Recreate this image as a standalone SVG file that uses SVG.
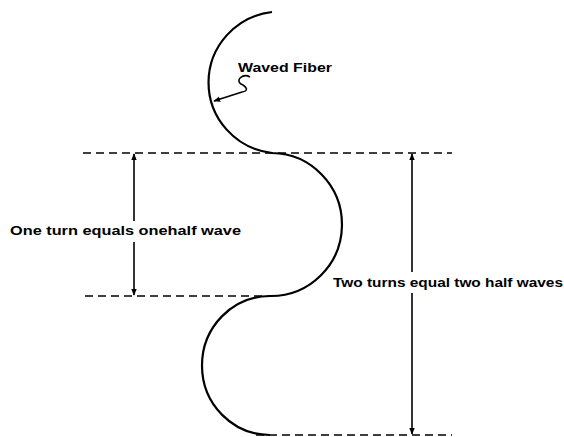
<svg xmlns="http://www.w3.org/2000/svg" width="564" height="437" viewBox="0 0 564 437">
<defs>
<style>
.fiber{fill:none;stroke:#000;stroke-width:2.2}
.dash{fill:none;stroke:#000;stroke-width:1.6;stroke-dasharray:8 5}
.dim{fill:none;stroke:#000;stroke-width:1.6}
.lbl{font-family:"Liberation Sans",Arial,sans-serif;font-weight:bold;font-size:13px;fill:#000}
</style>
<marker id="ah" viewBox="0 0 10 10" refX="9" refY="5" markerWidth="7" markerHeight="7" orient="auto-start-reverse" markerUnits="userSpaceOnUse">
<path d="M0,1 L10,5 L0,9 Z" fill="#000"/>
</marker>
</defs>
<rect width="564" height="437" fill="#fff"/>
<g id="fiber">
<path class="fiber" d="M 272,12 A 72,71 0 0 0 272,153 A 71,71.5 0 0 1 270,296 A 68,69.5 0 0 0 270,435"/>
</g>
<g id="connectors">
<line class="dash" x1="83" y1="153" x2="452" y2="153"/>
<line class="dash" x1="85" y1="296" x2="268" y2="296"/>
<line class="dash" x1="256" y1="435" x2="452" y2="435"/>
<line class="dim" x1="134" y1="221" x2="134" y2="154" marker-end="url(#ah)"/>
<line class="dim" x1="134" y1="242" x2="134" y2="295" marker-end="url(#ah)"/>
<line class="dim" x1="412" y1="272" x2="412" y2="154" marker-end="url(#ah)"/>
<line class="dim" x1="412" y1="293" x2="412" y2="434" marker-end="url(#ah)"/>
<path class="dim" d="M 250,77 C 243,73 235,80 241,84 C 247,87 249,91 242,92 L 214,101" marker-end="url(#ah)"/>
</g>
<g id="label-waved-fiber">
<text class="lbl" x="238" y="72" textLength="94" lengthAdjust="spacingAndGlyphs">Waved Fiber</text>
</g>
<g id="label-one-turn">
<text class="lbl" x="10" y="235" textLength="231" lengthAdjust="spacingAndGlyphs">One turn equals onehalf wave</text>
</g>
<g id="label-two-turns">
<text class="lbl" x="333" y="287" textLength="230" lengthAdjust="spacingAndGlyphs">Two turns equal two half waves</text>
</g>
</svg>
